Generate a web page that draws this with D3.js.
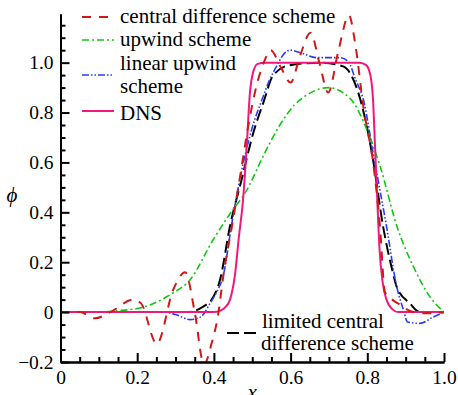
<!DOCTYPE html>
<html>
<head>
<meta charset="utf-8">
<title>phi profiles</title>
<script src="https://cdn.jsdelivr.net/npm/d3@7"></script>
<style>
  body { margin: 0; background: #fff; }
  svg text { font-family: "Liberation Serif", Tinos, "Times New Roman", Times, "DejaVu Serif", serif; }
</style>
</head>
<body>
<script>
// tick values
var xMajor = [0, 0.2, 0.4, 0.6, 0.8, 1.0];
var xLabels = ["0", "0.2", "0.4", "0.6", "0.8", "1.0"];
var yMajor = [-0.2, 0, 0.2, 0.4, 0.6, 0.8, 1.0];
var yLabels = ["\u22120.2", "0", "0.2", "0.4", "0.6", "0.8", "1.0"];

// series as [x, phi]
var centralDiff = [[0, 0], [0.05, 0.0], [0.09, -0.025], [0.13, 0.0], [0.19, 0.05], [0.21, 0.035],
  [0.251, -0.127], [0.294, 0.09], [0.325, 0.16], [0.35, 0.0], [0.374, -0.21], [0.395, -0.12],
  [0.41, -0.02], [0.425, 0.15], [0.45, 0.37], [0.47, 0.56], [0.49, 0.75], [0.51, 0.9],
  [0.53, 1.0], [0.548, 1.05], [0.575, 0.98], [0.6, 0.92], [0.625, 1.03], [0.652, 1.12],
  [0.675, 1.0], [0.698, 0.88], [0.725, 1.05], [0.752, 1.19], [0.77, 1.06], [0.79, 0.82],
  [0.816, 0.59], [0.833, 0.345], [0.846, 0.08], [0.865, 0.05], [0.885, 0.03], [0.92, 0.0],
  [0.96, -0.005], [1.0, 0.0]];
var upwind = [[0, 0], [0.1, 0.0], [0.146, 0.005], [0.216, 0.02], [0.286, 0.07], [0.338, 0.13],
  [0.398, 0.29], [0.44, 0.39], [0.486, 0.49], [0.53, 0.63], [0.572, 0.75], [0.61, 0.83],
  [0.642, 0.87], [0.698, 0.9], [0.755, 0.857], [0.798, 0.735], [0.833, 0.587], [0.877, 0.345],
  [0.92, 0.183], [0.963, 0.062], [1.0, 0.0]];
var linearUpwind = [[0, 0], [0.27, 0.0], [0.3, -0.01], [0.338, -0.03], [0.365, -0.02],
  [0.39, 0.035], [0.407, 0.08], [0.425, 0.15], [0.445, 0.34], [0.47, 0.55], [0.5, 0.74],
  [0.525, 0.85], [0.545, 0.93], [0.565, 0.99], [0.58, 1.03], [0.6, 1.05], [0.625, 1.04],
  [0.67, 1.02], [0.73, 1.02], [0.75, 1.005], [0.77, 0.93], [0.79, 0.85], [0.816, 0.63],
  [0.85, 0.345], [0.877, 0.1], [0.894, 0.01], [0.905, -0.04], [0.937, -0.045],
  [0.972, -0.02], [1.0, 0.0]];
var limitedCentral = [[0, 0], [0.33, 0.0], [0.37, 0.02], [0.398, 0.06], [0.41, 0.1],
  [0.416, 0.13], [0.442, 0.345], [0.472, 0.53], [0.503, 0.72], [0.529, 0.84], [0.555, 0.95],
  [0.598, 0.99], [0.677, 1.0], [0.737, 0.985], [0.772, 0.9], [0.798, 0.75], [0.815, 0.61],
  [0.841, 0.345], [0.867, 0.157], [0.877, 0.1], [0.911, 0.035], [0.937, 0.0], [1.0, 0.0]];
var dns = [[0, 0], [0.4, 0.0], [0.415, 0.005], [0.43, 0.02], [0.442, 0.05], [0.455, 0.15],
  [0.465, 0.3], [0.476, 0.45], [0.485, 0.65], [0.494, 0.88], [0.502, 0.96], [0.514, 0.995],
  [0.535, 1.0], [0.78, 1.0], [0.797, 0.99], [0.808, 0.95], [0.815, 0.85], [0.82, 0.67],
  [0.826, 0.45], [0.832, 0.25], [0.84, 0.12], [0.85, 0.05], [0.865, 0.012], [0.88, 0.0],
  [1.0, 0.0]];

var w = 458;
var h = 395;
var mLeft = 60.5, mRight = 444, mTop = 14, mBottom = 362;
var serif = "'Liberation Serif', Tinos, 'Times New Roman', Times, 'DejaVu Serif', serif";

var x_scale = d3.scaleLinear().domain([0, 1]).range([mLeft, mRight]);
var y_scale = d3.scaleLinear().domain([-0.2, 1.195]).range([mBottom, mTop]);

var svg = d3.select("body")
  .append("svg")
  .attr("width", w)
  .attr("height", h);

svg.append("defs").append("clipPath")
  .attr("id", "plotclip")
  .append("rect")
  .attr("x", mLeft).attr("y", mTop)
  .attr("width", mRight - mLeft).attr("height", mBottom - mTop);

var series = [
  { data: limitedCentral, color: "#000000", dash: "12,5", width: 2 },
  { data: linearUpwind, color: "#2a3cf0", dash: "7,2,1.5,2,1.5,2", width: 1.6 },
  { data: upwind, color: "#10c810", dash: "7,3,2,3", width: 1.6 },
  { data: dns, color: "#f0187c", dash: null, width: 2 },
  { data: centralDiff, color: "#d01818", dash: "9,8", width: 2 }
];

var line = d3.line()
  .x(function(d) { return x_scale(d[0]); })
  .y(function(d) { return y_scale(d[1]); })
  .curve(d3.curveMonotoneX);

var plot = svg.append("g").attr("clip-path", "url(#plotclip)");
series.forEach(function(s) {
  plot.append("path")
    .datum(s.data)
    .attr("d", line)
    .attr("fill", "none")
    .attr("stroke", s.color)
    .attr("stroke-width", s.width)
    .attr("stroke-dasharray", s.dash);
});

// minor ticks
var xMinor = d3.range(0, 1.0001, 0.05).filter(function(v) {
  return Math.abs(v * 5 - Math.round(v * 5)) > 1e-6;
});
var yMinor = d3.range(-0.15, 1.19, 0.05).filter(function(v) {
  return Math.abs(v * 5 - Math.round(v * 5)) > 1e-6;
});

svg.append("g")
  .attr("transform", "translate(0," + mBottom + ")")
  .call(d3.axisBottom(x_scale)
    .tickValues(xMajor)
    .tickSize(-9)
    .tickSizeOuter(0)
    .tickPadding(8)
    .tickFormat(function(d, i) { return xLabels[i]; }));
svg.append("g")
  .attr("transform", "translate(0," + mBottom + ")")
  .call(d3.axisBottom(x_scale).tickValues(xMinor).tickSize(-5).tickSizeOuter(0).tickFormat(""));

svg.append("g")
  .attr("transform", "translate(" + mLeft + ",0)")
  .call(d3.axisLeft(y_scale)
    .tickValues(yMajor)
    .tickSize(-9)
    .tickSizeOuter(0)
    .tickPadding(7)
    .tickFormat(function(d, i) { return yLabels[i]; }));
svg.append("g")
  .attr("transform", "translate(" + mLeft + ",0)")
  .call(d3.axisLeft(y_scale).tickValues(yMinor).tickSize(-5).tickSizeOuter(0).tickFormat(""));

svg.selectAll(".domain, .tick line")
  .attr("stroke", "#000")
  .attr("stroke-width", 2);
svg.selectAll(".tick text")
  .attr("fill", "#000")
  .attr("font-family", serif)
  .style("font-family", serif)
  .style("font-size", "19.5px");

// axis titles
svg.append("text")
  .attr("x", x_scale(0.5))
  .attr("y", 399)
  .attr("text-anchor", "middle")
  .style("font-family", serif)
  .style("font-style", "italic")
  .style("font-size", "21px")
  .text("x");
svg.append("text")
  .attr("x", 12)
  .attr("y", 202)
  .attr("text-anchor", "middle")
  .style("font-family", serif)
  .style("font-style", "italic")
  .style("font-size", "21px")
  .text("\u03d5");

// legend
var legend = [
  { label: ["central difference scheme"], color: "#d01818", dash: "9,8", width: 2, ly: 17, ty: 23 },
  { label: ["upwind scheme"], color: "#10c810", dash: "7,3,2,3", width: 1.6, ly: 40, ty: 46 },
  { label: ["linear upwind", "scheme"], color: "#2a3cf0", dash: "7,2,1.5,2,1.5,2", width: 1.6, ly: 75, ty: 70 },
  { label: ["DNS"], color: "#f0187c", dash: null, width: 2, ly: 111, ty: 120 }
];
legend.forEach(function(l) {
  svg.append("line")
    .attr("x1", 82).attr("x2", 114)
    .attr("y1", l.ly).attr("y2", l.ly)
    .attr("stroke", l.color)
    .attr("stroke-width", l.width)
    .attr("stroke-dasharray", l.dash);
  l.label.forEach(function(t, i) {
    svg.append("text")
      .attr("x", 120)
      .attr("y", l.ty + i * 23)
      .style("font-family", serif)
      .style("font-size", "21px")
      .text(t);
  });
});

svg.append("line")
  .attr("x1", 227).attr("x2", 258)
  .attr("y1", 333).attr("y2", 333)
  .attr("stroke", "#000")
  .attr("stroke-width", 2)
  .attr("stroke-dasharray", "12,5");
svg.append("text").attr("x", 262).attr("y", 328)
  .style("font-family", serif).style("font-size", "21px").text("limited central");
svg.append("text").attr("x", 261).attr("y", 350)
  .style("font-family", serif).style("font-size", "21px").text("difference scheme");
</script>
</body>
</html>
